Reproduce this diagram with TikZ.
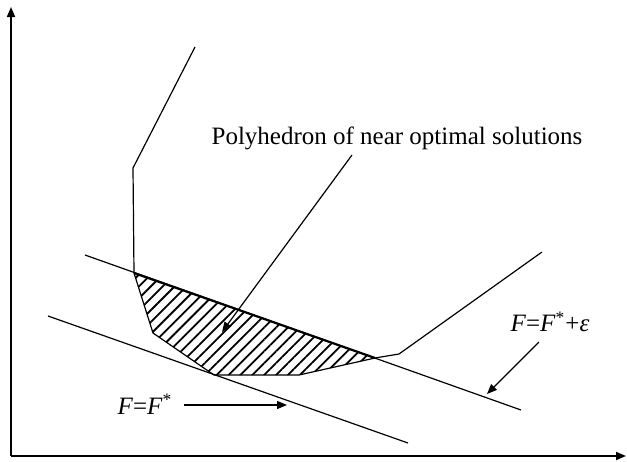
\documentclass[tikz,border=0pt]{standalone}
\usepackage{fontspec}
\setmainfont{Liberation Serif}
\usetikzlibrary{arrows.meta, patterns.meta, positioning}

\begin{document}
\begin{tikzpicture}[
    x=0.5pt, y=-0.5pt,
    axis/.style={-{Triangle[length=5pt, width=4pt]}, line width=0.9pt},
    bound/.style={line width=0.6pt, line join=round},
    lvl/.style={line width=0.6pt},
    arr/.style={-{Triangle[length=5pt, width=4pt]}, line width=0.6pt},
    lbl/.style={font=\fontsize{12.5}{14}\selectfont, inner sep=1pt},
    hatch/.style={pattern={Lines[angle=45, distance=4.2pt, line width=0.9pt]}}
]
\useasboundingbox (0,0) rectangle (627,461);

% axes
\coordinate (orig) at (11,456);
\coordinate (ytop) at (11,7);
\coordinate (xend) at (626,456);
\draw[axis] (orig) -- (ytop);
\draw[axis] (orig) -- (xend);

% feasible region boundary
\coordinate (b1) at (195,47);
\coordinate (b2) at (133,168);
\coordinate (b3) at (134,273);
\coordinate (b4) at (153,333);
\coordinate (b5) at (214,375);
\coordinate (b6) at (299,375);
\coordinate (b7) at (375,358);
\coordinate (b8) at (399,354);
\coordinate (b9) at (542,252);

% near optimal polyhedron
\fill[hatch] (b3) -- (b4) -- (b5) -- (b6) -- (b7) -- cycle;
\draw[line width=1.1pt] (b3) -- (b7);
\draw[bound] (b1) -- (b2) -- (b3) -- (b4) -- (b5) -- (b6) -- (b7) -- (b8) -- (b9);

% level lines of F
\coordinate (u1) at (85,255);
\coordinate (u2) at (521,410);
\coordinate (l1) at (48,316);
\coordinate (l2) at (408,443);
\draw[lvl] (u1) -- (u2);
\draw[lvl] (l1) -- (l2);

% labels
\node[lbl] (poly) at (397,138) {Polyhedron of near optimal solutions};
\node[lbl] (fopt) at (145,404) {\textit{F}=\textit{F}\textsuperscript{*}};
\node[lbl] (feps) at (550,322) {\textit{F}=\textit{F}\textsuperscript{*}+\textit{ε}};

\coordinate (pa) at (352,155);
\coordinate (pb) at (222,332);
\coordinate (fa) at (184,405);
\coordinate (fb) at (287,405);
\coordinate (ea) at (539,342);
\coordinate (eb) at (487,394);
\draw[arr] (pa) -- (pb);
\draw[arr] (fa) -- (fb);
\draw[arr] (ea) -- (eb);
\end{tikzpicture}
\end{document}
